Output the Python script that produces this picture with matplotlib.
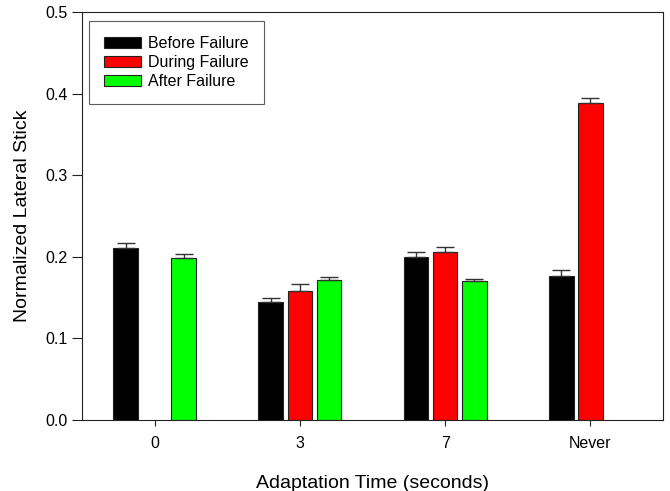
import numpy as np
import matplotlib
matplotlib.use("Agg")
import matplotlib.pyplot as plt

plt.rcParams['font.family'] = ['Liberation Sans', 'DejaVu Sans']

# ----- DATA -----
categories = ["0", "3", "7", "Never"]
series_names = ["Before Failure", "During Failure", "After Failure"]
before = [0.211, 0.145, 0.200, 0.176]
during = [np.nan, 0.158, 0.206, 0.389]
after = [0.198, 0.171, 0.170, np.nan]
before_err = [0.006, 0.005, 0.006, 0.008]
during_err = [np.nan, 0.009, 0.0065, 0.005]
after_err = [0.005, 0.004, 0.003, np.nan]
colors = ["#000000", "#ff0000", "#00ff00"]

# ----- PLOT -----
fig = plt.figure(figsize=(6.7, 4.91), dpi=100)
ax = fig.add_axes([0.1224, 0.1446, 0.8672, 0.831])

x = np.arange(len(categories))
width = 0.17
offsets = [-0.2, 0.0, 0.2]
values = [before, during, after]
errors = [before_err, during_err, after_err]

for vals, errs, off, col, name in zip(values, errors, offsets, colors, series_names):
    vals = np.array(vals, dtype=float)
    errs = np.array(errs, dtype=float)
    ax.bar(x + off, vals, width, color=col, edgecolor="#222222", linewidth=0.8,
           label=name, zorder=2)
    ok = ~np.isnan(vals)
    ax.errorbar((x + off)[ok], vals[ok], yerr=[np.zeros(ok.sum()), errs[ok]],
                fmt="none", ecolor="#333333", elinewidth=1.0, capsize=6.5,
                capthick=1.0, zorder=3)

ax.set_xlim(-0.5, 3.5)
ax.set_ylim(0, 0.5)
ax.set_xticks(x)
ax.set_xticklabels(categories)
ax.set_yticks(np.arange(0, 0.51, 0.1))
ax.set_yticklabels([f"{v:.1f}" for v in np.arange(0, 0.51, 0.1)])
ax.tick_params(direction="out", width=0.8, labelsize=11.5, color="#222222")
ax.tick_params(axis="x", length=4.5, pad=7)
ax.tick_params(axis="y", length=7.5, pad=3)
for s in ax.spines.values():
    s.set_linewidth(0.8)
    s.set_color("#222222")

ax.set_xlabel("Adaptation Time (seconds)", fontsize=14, labelpad=17)
ax.set_ylabel("Normalized Lateral Stick", fontsize=14, labelpad=10)

leg = ax.legend(loc="upper left", bbox_to_anchor=(0.012, 0.978), fontsize=11.5,
                frameon=True, fancybox=False, edgecolor="#333333",
                handlelength=2.3, handleheight=0.75, labelspacing=0.25,
                borderpad=0.95, handletextpad=0.45, borderaxespad=0)
leg.get_frame().set_linewidth(0.8)

plt.savefig("out.png", dpi=100)
plt.close()
